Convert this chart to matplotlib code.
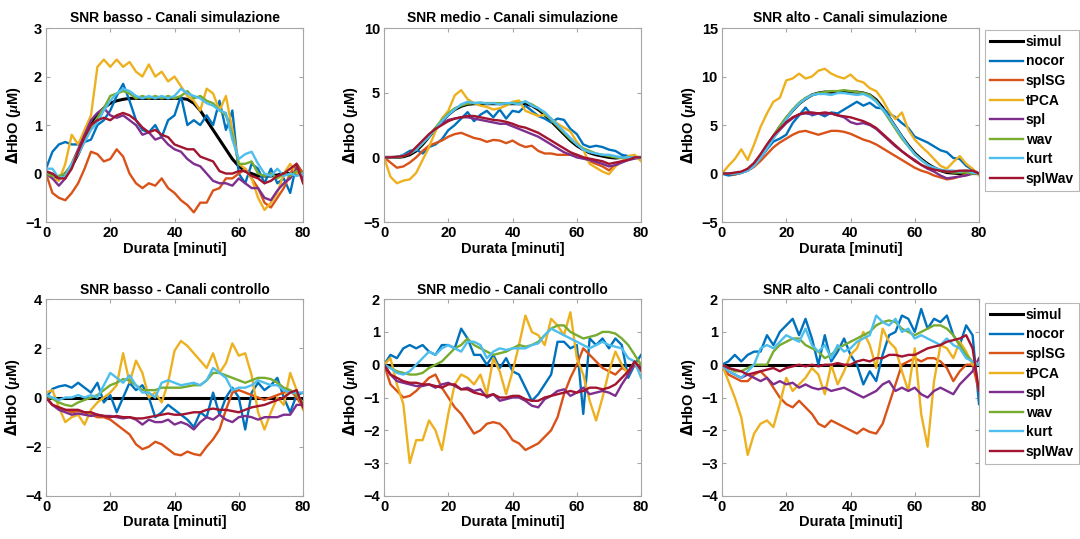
import matplotlib
matplotlib.use("Agg")
import matplotlib.pyplot as plt

# time axis, minutes (sampled every 2 min)
durata = list(range(0, 81, 2))

names = ["simul", "nocor", "splSG", "tPCA", "spl", "wav", "kurt", "splWav"]
colors = ["#000000", "#0072BD", "#D95319", "#EDB120",
          "#7E2F8E", "#77AC30", "#4DBEEE", "#A2142F"]

# ---- SNR basso, canali simulazione
bs_simul = [0, -0.02, -0.1, 0.0, 0.15, 0.4, 0.7, 1.0, 1.2, 1.35, 1.45,
            1.5, 1.53, 1.55, 1.55, 1.55, 1.55, 1.55, 1.55, 1.55, 1.55,
            1.55, 1.53, 1.45, 1.3, 1.1, 0.9, 0.7, 0.5, 0.3, 0.15,
            0.05, 0.0, -0.05, -0.05, -0.05, -0.03, 0.0, 0.0, 0.0, 0.0]
bs_nocor = [0.1, 0.45, 0.6, 0.65, 0.6, 0.6, 0.65, 0.7, 1.0, 1.1, 1.3,
            1.6, 1.85, 1.5, 1.1, 0.9, 0.85, 1.0, 0.75, 1.1, 1.2,
            1.6, 1.0, 1.1, 1.0, 1.2, 1.0, 1.5, 0.9, 1.3, 0.0,
            -0.2, 0.2, 0.1, -0.2, 0.1, -0.2, -0.1, -0.4, 0.2, 0.0]
bs_splSG = [0, -0.4, -0.5, -0.55, -0.4, -0.2, 0.1, 0.45, 0.4, 0.25, 0.3,
            0.5, 0.35, 0.0, -0.2, -0.3, -0.2, -0.25, -0.1, -0.3, -0.4,
            -0.55, -0.65, -0.8, -0.6, -0.6, -0.35, -0.3, -0.1, -0.1, 0.0,
            0.1, -0.1, -0.3, -0.6, -0.7, -0.5, -0.3, 0.0, 0.2, 0.0]
bs_tPCA = [0, -0.1, -0.15, 0.2, 0.8, 0.6, 0.9, 1.2, 2.2, 2.35, 2.2,
           2.35, 2.2, 2.3, 2.1, 2.0, 2.25, 2.0, 2.1, 1.9, 2.0,
           1.8, 1.6, 1.5, 1.3, 1.75, 1.65, 1.3, 1.6, 0.9, 0.2,
           0.1, -0.1, -0.5, -0.75, -0.6, -0.4, 0.0, 0.2, 0.0, 0.0]
bs_spl = [0, -0.1, -0.25, -0.1, 0.2, 0.5, 0.8, 1.1, 1.25, 1.35, 1.2,
          1.15, 1.2, 1.1, 1.0, 0.8, 0.85, 0.7, 0.75, 0.6, 0.5,
          0.45, 0.3, 0.2, 0.15, 0.0, -0.15, -0.2, -0.2, -0.25, -0.1,
          -0.2, -0.3, -0.3, -0.5, -0.55, -0.35, -0.2, -0.1, 0.1, -0.1]
bs_wav = [0, -0.05, -0.05, 0.0, 0.2, 0.45, 0.7, 0.95, 1.15, 1.35, 1.6,
          1.65, 1.7, 1.65, 1.55, 1.6, 1.55, 1.6, 1.55, 1.6, 1.55,
          1.6, 1.7, 1.55, 1.6, 1.5, 1.45, 1.3, 1.2, 0.8, 0.2,
          0.2, 0.25, 0.0, -0.05, 0.0, -0.1, 0.0, -0.05, 0.05, 0.0]
bs_kurt = [0.1, 0.1, -0.1, -0.05, 0.2, 0.4, 0.65, 0.9, 1.05, 1.3, 1.5,
           1.65, 1.75, 1.7, 1.6, 1.55, 1.6, 1.55, 1.6, 1.55, 1.6,
           1.75, 1.65, 1.6, 1.55, 1.45, 1.4, 1.3, 1.25, 0.7, 0.3,
           0.4, 0.45, 0.2, 0.0, -0.05, 0.1, -0.05, 0.0, -0.05, 0.0]
bs_splWav = [0.05, 0.0, -0.1, -0.1, 0.1, 0.45, 0.75, 1.0, 1.1, 1.15, 1.1,
             1.2, 1.25, 1.2, 1.1, 0.95, 0.85, 0.9, 0.8, 0.75, 0.6,
             0.55, 0.5, 0.5, 0.35, 0.3, 0.25, 0.05, 0.0, 0.0, 0.05,
             0.05, -0.05, -0.1, -0.2, -0.15, -0.05, 0.0, 0.1, 0.2, -0.2]

# ---- SNR medio, canali simulazione
ms_simul = [0, 0, 0, 0.05, 0.2, 0.5, 1.0, 1.6, 2.2, 2.8, 3.3,
            3.7, 3.95, 4.1, 4.15, 4.15, 4.15, 4.15, 4.15, 4.15, 4.15,
            4.15, 4.15, 4.0, 3.7, 3.3, 2.8, 2.3, 1.8, 1.3, 0.9,
            0.6, 0.35, 0.2, 0.1, 0.0, -0.05, 0.0, 0.0, 0.0, 0.0]
ms_nocor = [0, 0, 0, 0.2, 0.5, 0.6, 0.3, 0.8, 1.0, 1.4, 2.1,
            2.5, 3.0, 3.5, 2.8, 3.3, 3.6, 3.1, 3.7, 3.0, 3.6,
            3.5, 4.0, 3.6, 3.2, 3.0, 2.7, 3.0, 2.9, 2.2, 1.8,
            1.0, 0.8, 0.9, 0.8, 0.6, 0.5, 0.2, 0.1, 0.0, 0.0]
ms_splSG = [0, -0.4, -0.8, -0.7, -0.4, 0.0, 0.5, 0.9, 1.1, 1.3, 1.6,
            1.8, 1.9, 1.7, 1.5, 1.4, 1.2, 1.35, 1.3, 1.1, 1.3,
            1.0, 0.8, 0.9, 0.5, 0.3, 0.3, 0.2, 0.2, 0.2, 0.2,
            0.0, -0.3, -0.5, -0.7, -1.0, -0.6, -0.3, -0.1, 0.0, 0.0]
ms_tPCA = [0, -1.5, -2.0, -1.8, -1.7, -1.2, -0.2, 0.8, 2.0, 3.0, 3.6,
           4.8, 5.2, 4.5, 4.2, 4.0, 3.9, 3.7, 3.8, 4.0, 4.3,
           4.4, 3.6, 3.4, 3.2, 3.3, 3.0, 2.6, 2.3, 2.0, 1.2,
           0.6, -0.5, -0.8, -1.1, -1.3, -0.7, -0.3, 0.1, 0.2, -0.3]
ms_spl = [0, 0, 0, 0.1, 0.3, 0.7, 1.2, 1.7, 2.2, 2.6, 2.9,
          3.0, 3.1, 3.1, 3.0, 2.9, 2.8, 2.7, 2.6, 2.6, 2.4,
          2.2, 2.0, 1.8, 1.6, 1.3, 1.0, 0.7, 0.4, 0.2, 0.0,
          -0.1, -0.2, -0.35, -0.5, -0.7, -0.6, -0.4, -0.2, -0.1, 0.0]
ms_wav = [0, 0, 0, 0.1, 0.3, 0.6, 1.1, 1.7, 2.3, 2.9, 3.4,
          3.8, 4.0, 4.15, 4.2, 4.2, 4.2, 4.2, 4.2, 4.15, 4.2,
          4.2, 4.3, 4.1, 3.8, 3.4, 2.9, 2.4, 1.9, 1.4, 1.0,
          0.7, 0.5, 0.3, 0.2, 0.1, 0.0, -0.05, 0.0, 0.0, 0.0]
ms_kurt = [0, 0, 0.05, 0.15, 0.3, 0.6, 1.1, 1.6, 2.2, 2.8, 3.3,
           3.7, 4.1, 4.3, 4.2, 4.25, 4.15, 4.2, 4.1, 4.2, 4.2,
           4.1, 4.35, 4.0, 3.8, 3.5, 3.0, 2.5, 2.0, 1.5, 1.0,
           0.6, 0.4, 0.3, 0.2, 0.2, 0.1, 0.0, 0.0, 0.0, 0.0]
ms_splWav = [0, 0, 0.05, 0.1, 0.3, 0.8, 1.3, 1.8, 2.2, 2.5, 2.8,
             3.0, 3.1, 3.2, 3.2, 3.1, 3.0, 2.9, 2.85, 2.75, 2.6,
             2.4, 2.3, 2.1, 1.9, 1.6, 1.3, 1.0, 0.7, 0.4, 0.2,
             0.0, -0.1, -0.2, -0.3, -0.5, -0.4, -0.3, -0.2, 0.0, 0.0]

# ---- SNR alto, canali simulazione
as_simul = [0, 0, 0, 0.1, 0.4, 1.0, 1.8, 2.8, 3.8, 4.8, 5.7,
            6.5, 7.2, 7.7, 8.1, 8.3, 8.4, 8.4, 8.4, 8.4, 8.4,
            8.4, 8.3, 8.1, 7.6, 6.8, 5.8, 4.8, 3.8, 2.9, 2.1,
            1.5, 1.0, 0.6, 0.3, 0.1, 0.05, 0.0, 0.0, 0.0, 0.0]
as_nocor = [0, -0.2, -0.1, 0.1, 0.3, 0.8, 1.6, 2.5, 3.3, 3.6, 4.0,
            5.2, 6.0, 6.8, 6.0, 6.2, 5.9, 6.3, 6.2, 6.6, 7.0,
            7.4, 7.0, 7.3, 6.8, 6.7, 6.2, 5.8, 5.2, 4.7, 3.8,
            3.5, 3.2, 2.8, 2.4, 2.2, 1.6, 1.5, 0.8, 0.4, 0.0]
as_splSG = [0, 0, -0.1, 0.1, 0.3, 0.7, 1.3, 2.0, 2.7, 3.2, 3.6,
            4.0, 4.3, 4.4, 4.2, 4.0, 4.2, 4.4, 4.4, 4.3, 4.1,
            3.8, 3.5, 3.3, 3.0, 2.6, 2.2, 1.8, 1.4, 1.0, 0.6,
            0.3, 0.1, -0.2, -0.4, -0.6, -0.5, -0.3, -0.1, 0.0, 0.0]
as_tPCA = [0, 0.8, 1.5, 2.5, 1.4, 3.0, 4.8, 6.2, 7.4, 7.8, 9.6,
           9.8, 10.3, 9.8, 10.0, 10.6, 10.8, 10.3, 10.0, 9.8, 10.2,
           9.6, 9.4, 8.8, 8.5, 7.6, 6.4, 5.6, 6.3, 4.5, 3.5,
           2.8, 2.2, 1.5, 0.8, 0.5, 1.2, 1.8, 1.0, 0.5, -0.2]
as_spl = [0, 0, 0, 0.1, 0.4, 1.0, 1.9, 2.8, 3.7, 4.5, 5.2,
          5.7, 6.1, 6.2, 6.1, 6.2, 6.1, 6.2, 6.0, 5.8, 5.3,
          5.1, 5.2, 5.0, 4.6, 4.0, 3.4, 2.8, 2.3, 1.8, 1.4,
          0.9, 0.5, 0.2, -0.2, -0.5, -0.4, -0.3, -0.2, 0.0, 0.0]
as_wav = [0, 0, 0, 0.1, 0.4, 1.0, 1.9, 2.9, 3.9, 4.9, 5.8,
          6.6, 7.3, 7.8, 8.1, 8.3, 8.4, 8.5, 8.5, 8.6, 8.5,
          8.4, 8.3, 8.1, 7.5, 6.6, 5.6, 4.6, 3.6, 2.8, 2.0,
          1.4, 0.9, 0.5, 0.3, 0.2, 0.1, 0.1, 0.1, 0.0, 0.0]
as_kurt = [0, 0, 0, 0.05, 0.3, 0.8, 1.6, 2.6, 3.6, 4.6, 5.6,
           6.5, 7.2, 7.7, 8.1, 8.2, 8.2, 8.1, 8.3, 8.3, 8.2,
           8.1, 8.2, 7.9, 7.4, 6.6, 5.8, 4.8, 3.8, 2.8, 2.0,
           1.4, 0.9, 0.6, 0.4, 0.3, 0.3, 0.2, 0.3, 0.1, 0.0]
as_splWav = [0, 0, 0.1, 0.2, 0.5, 1.1, 2.0, 3.0, 3.9, 4.6, 5.3,
             5.8, 6.1, 6.3, 6.3, 6.2, 6.3, 6.2, 6.0, 5.9, 5.8,
             5.6, 5.4, 5.1, 4.7, 4.1, 3.5, 2.9, 2.3, 1.8, 1.3,
             0.9, 0.6, 0.4, 0.3, 0.2, 0.2, 0.3, 0.3, 0.3, 0.0]

# ---- control channels: no simulated response
ctrl_simul = [0, 0, 0, 0, 0, 0, 0, 0, 0, 0, 0,
              0, 0, 0, 0, 0, 0, 0, 0, 0, 0,
              0, 0, 0, 0, 0, 0, 0, 0, 0, 0,
              0, 0, 0, 0, 0, 0, 0, 0, 0, 0]

# ---- SNR basso, canali controllo
bc_nocor = [0, 0.35, 0.45, 0.5, 0.4, 0.6, 0.4, 0.2, 0.6, -0.2, 0.1,
            -0.6, 0.0, 0.6, 0.3, 0.5, 0.0, -0.8, -0.6, -0.3, -0.5,
            -0.7, -0.9, -1.2, -0.6, -0.8, 0.2, -0.7, 0.0, 0.4, 0.0,
            -1.3, 0.2, 0.6, 0.3, 0.5, 0.8, 0.0, -0.6, 0.1, 0.2]
bc_splSG = [0, -0.3, -0.4, -0.5, -0.6, -0.55, -0.6, -0.7, -0.8, -0.8, -0.9,
            -1.1, -1.3, -1.5, -1.9, -2.1, -2.0, -1.8, -1.9, -2.1, -2.3,
            -2.35, -2.2, -2.3, -2.35, -2.0, -1.7, -1.3, -0.5, 0.2, 0.3,
            0.2, 0.1, 0.0, -0.1, 0.0, 0.1, 0.2, 0.3, 0.0, -0.4]
bc_tPCA = [0.2, 0.3, -0.4, -1.0, -0.8, -0.7, -1.1, -0.5, -0.2, 0.0, 0.2,
           0.5, 1.8, 0.6, 1.5, 1.0, 0.0, 0.2, -0.2, 0.6, 1.9,
           2.3, 2.1, 1.8, 1.5, 1.2, 1.8, 1.0, 1.4, 2.2, 1.7,
           1.8, 0.9, -0.6, -1.3, -0.6, 0.0, -0.3, 1.0, 0.3, -0.5]
bc_spl = [0, -0.3, -0.5, -0.6, -0.7, -0.65, -0.7, -0.75, -0.7, -0.75, -0.75,
          -0.8, -0.85, -0.8, -0.9, -1.1, -0.9, -1.0, -1.0, -0.9, -1.1,
          -1.0, -1.1, -1.3, -1.0, -0.8, -0.9, -0.7, -0.9, -1.0, -0.8,
          -0.75, -0.8, -0.9, -0.8, -0.8, -0.8, -0.7, -0.7, -0.3, -0.3]
bc_wav = [0.05, -0.05, -0.2, -0.3, -0.35, -0.2, -0.1, 0.0, 0.1, 0.3, 0.5,
          0.6, 0.75, 0.7, 0.5, 0.3, 0.3, 0.3, 0.4, 0.4, 0.4,
          0.4, 0.45, 0.5, 0.5, 0.7, 1.0, 1.0, 0.9, 0.8, 0.7,
          0.6, 0.7, 0.8, 0.8, 0.75, 0.6, 0.4, 0.3, 0.1, -0.2]
bc_kurt = [0.1, 0.0, -0.1, 0.0, 0.0, 0.1, 0.0, 0.1, 0.0, 0.5, 1.0,
           0.8, 0.6, 0.9, 0.5, 0.2, 0.2, 0.0, 0.6, 0.7, 0.6,
           0.5, 0.55, 0.6, 0.5, 0.7, 1.2, 1.0, 0.8, 0.3, 0.4,
           0.4, 0.5, 0.7, 0.6, 0.5, 0.5, 0.3, 0.2, 0.2, 0.2]
bc_splWav = [0, -0.3, -0.4, -0.5, -0.5, -0.5, -0.6, -0.6, -0.7, -0.75, -0.8,
             -0.75, -0.8, -0.8, -0.85, -0.85, -0.8, -0.75, -0.7, -0.65, -0.7,
             -0.7, -0.65, -0.6, -0.6, -0.5, -0.45, -0.5, -0.5, -0.55, -0.6,
             -0.5, -0.4, -0.35, -0.3, -0.2, -0.1, 0.0, 0.2, 0.3, -0.4]

# ---- SNR medio, canali controllo
mc_nocor = [0, 0.3, 0.2, 0.5, 0.6, 0.5, 0.6, 0.4, 0.3, 0.6, 0.6,
            0.5, 1.1, 0.8, 0.3, 0.3, 0.0, 0.3, -0.1, 0.2, -0.2,
            -0.3, -0.7, -1.1, -0.9, -0.6, -0.3, 0.7, 0.7, 0.5, 0.6,
            -1.5, 0.8, 0.6, 0.8, 0.5, 0.8, 0.6, -0.4, 0.0, 0.3]
mc_splSG = [0, -0.6, -0.8, -1.0, -0.95, -0.8, -0.6, -0.4, -0.3, -0.7, -1.0,
            -1.3, -1.5, -1.8, -2.1, -2.0, -1.8, -1.75, -1.8, -2.0, -2.3,
            -2.4, -2.6, -2.5, -2.4, -2.2, -2.0, -1.6, -0.9, -0.4, 0.0,
            0.5, 0.3, 0.1, -0.1, -0.2, -0.3, -0.1, -0.2, 0.0, -0.2]
mc_tPCA = [0, 0.2, -0.6, -1.2, -3.0, -2.3, -2.3, -1.7, -2.0, -2.6, -1.5,
           -0.6, -0.3, -0.4, -0.6, -0.3, -0.9, 0.2, -0.2, -0.9, -0.2,
           0.6, 1.5, 1.0, 0.9, 0.6, 1.4, 1.2, 0.9, 1.6, 0.2,
           -0.3, -1.1, -1.7, -1.0, -0.2, 0.4, 0.0, -0.3, 0.1, -0.1]
mc_spl = [0, -0.3, -0.5, -0.55, -0.6, -0.65, -0.65, -0.6, -0.7, -0.6, -0.55,
          -0.65, -0.75, -0.7, -0.8, -0.75, -1.0, -0.9, -1.1, -1.05, -1.0,
          -1.0, -1.1, -1.25, -1.3, -1.05, -0.95, -0.8, -0.75, -0.95, -0.85,
          -0.7, -0.9, -0.85, -0.8, -0.85, -0.95, -0.6, -0.3, 0.05, -0.1]
mc_wav = [0, -0.1, -0.2, -0.25, -0.3, -0.3, -0.25, -0.1, 0.0, 0.1, 0.3,
          0.5, 0.6, 0.8, 0.6, 0.5, 0.4, 0.3, 0.35, 0.4, 0.5,
          0.6, 0.55, 0.6, 0.7, 0.9, 1.1, 1.2, 1.2, 1.0, 0.9,
          0.8, 0.85, 0.9, 1.0, 1.0, 0.95, 0.8, 0.6, 0.3, 0.0]
mc_kurt = [0, -0.1, -0.25, -0.3, -0.2, 0.0, 0.2, 0.4, 0.3, 0.5, 0.6,
           0.5, 0.4, 0.7, 0.7, 0.6, 0.2, 0.4, 0.5, 0.45, 0.5,
           0.5, 0.5, 0.6, 0.65, 0.9, 1.1, 1.0, 0.9, 0.8, 0.7,
           0.6, 0.5, 0.6, 0.7, 0.6, 0.55, 0.5, 0.2, 0.1, -0.4]
mc_splWav = [0, -0.3, -0.4, -0.5, -0.55, -0.55, -0.6, -0.6, -0.65, -0.7, -0.6,
             -0.6, -0.75, -0.75, -0.85, -0.9, -0.95, -0.9, -1.0, -1.0, -0.95,
             -0.95, -1.05, -1.1, -1.1, -1.0, -0.95, -0.9, -0.85, -0.8, -0.85,
             -0.8, -0.7, -0.7, -0.75, -0.7, -0.6, -0.4, -0.2, 0.1, -0.15]

# ---- SNR alto, canali controllo
ac_nocor = [0, 0.1, 0.3, 0.1, 0.3, 0.4, 0.4, 0.9, 0.6, 1.0, 1.2,
            1.4, 0.9, 1.4, 0.8, 0.0, 0.9, 0.1, 0.4, 0.8, 0.3,
            0.0, -0.6, -0.2, -0.5, 0.3, 0.9, 1.0, 1.5, 1.4, 1.0,
            1.7, 1.1, 1.4, 1.3, 1.5, 0.9, 0.6, 1.2, 0.9, -1.2]
ac_splSG = [0, -0.3, -0.4, -0.5, -0.5, -0.3, -0.2, -0.4, -0.7, -1.0, -1.2,
            -1.3, -1.1, -1.3, -1.5, -1.8, -1.9, -1.7, -1.8, -1.9, -2.0,
            -2.1, -1.95, -2.05, -2.1, -1.8, -1.2, -0.6, 0.0, 0.1, 0.2,
            0.1, 0.2, 0.2, 0.1, -0.1, -0.5, -0.2, 0.0, 0.0, -0.8]
ac_tPCA = [0, -0.5, -1.0, -1.6, -2.75, -2.1, -1.8, -1.7, -1.9, -1.2, -0.4,
           -0.8, -0.6, -0.4, -0.1, -0.3, -0.9, 0.0, -0.6, -0.2, 0.3,
           0.5, 1.0, 0.6, -0.1, 1.1, 0.7, 0.5, -0.2, -0.8, 0.5,
           -1.5, -2.5, -0.5, 0.6, 0.5, 0.2, 0.7, 0.4, 0.0, 0.0]
ac_spl = [0, -0.2, -0.3, -0.4, -0.3, -0.4, -0.5, -0.4, -0.6, -0.5, -0.6,
          -0.55, -0.7, -0.6, -0.7, -0.75, -0.7, -0.8, -0.75, -0.7, -0.8,
          -0.9, -1.0, -0.9, -0.8, -0.6, -0.5, -0.8, -0.7, -0.8, -0.7,
          -0.9, -1.0, -0.8, -0.7, -0.8, -0.9, -0.6, -0.4, -0.2, 0.2]
ac_wav = [0, -0.1, -0.2, -0.2, -0.1, 0.0, 0.0, 0.0, 0.4, 0.6, 0.7,
          0.8, 0.8, 0.6, 0.5, 0.4, 0.2, 0.3, 0.5, 0.6, 0.7,
          0.8, 0.9, 1.0, 1.2, 1.3, 1.35, 1.3, 1.1, 1.0, 0.9,
          1.0, 1.1, 1.2, 1.2, 1.1, 0.9, 0.6, 0.3, 0.1, 0.0]
ac_kurt = [0, -0.2, -0.3, -0.4, -0.2, 0.0, 0.5, 0.6, 0.5, 0.7, 0.9,
           0.8, 0.7, 1.1, 0.6, 0.4, 0.6, 0.2, 0.6, 0.4, 0.5,
           0.7, 0.8, 0.9, 1.5, 1.3, 1.2, 1.4, 1.0, 1.1, 0.8,
           0.9, 0.8, 0.7, 0.6, 0.8, 0.6, 0.5, 0.2, 0.1, 0.0]
ac_splWav = [0, -0.1, -0.15, -0.2, -0.3, -0.25, -0.2, -0.15, -0.1, -0.2, -0.1,
             -0.05, 0.0, -0.05, 0.0, -0.05, 0.0, 0.0, 0.05, 0.0, 0.0,
             0.1, 0.15, 0.1, 0.2, 0.2, 0.3, 0.3, 0.25, 0.3, 0.3,
             0.4, 0.5, 0.55, 0.6, 0.7, 0.75, 0.8, 0.9, 0.5, -0.8]

panels = [
    ("SNR basso - Canali simulazione", (-1, 3), [-1, 0, 1, 2, 3],
     [bs_simul, bs_nocor, bs_splSG, bs_tPCA, bs_spl, bs_wav, bs_kurt, bs_splWav]),
    ("SNR medio - Canali simulazione", (-5, 10), [-5, 0, 5, 10],
     [ms_simul, ms_nocor, ms_splSG, ms_tPCA, ms_spl, ms_wav, ms_kurt, ms_splWav]),
    ("SNR alto - Canali simulazione", (-5, 15), [-5, 0, 5, 10, 15],
     [as_simul, as_nocor, as_splSG, as_tPCA, as_spl, as_wav, as_kurt, as_splWav]),
    ("SNR basso - Canali controllo", (-4, 4), [-4, -2, 0, 2, 4],
     [ctrl_simul, bc_nocor, bc_splSG, bc_tPCA, bc_spl, bc_wav, bc_kurt, bc_splWav]),
    ("SNR medio - Canali controllo", (-4, 2), [-4, -3, -2, -1, 0, 1, 2],
     [ctrl_simul, mc_nocor, mc_splSG, mc_tPCA, mc_spl, mc_wav, mc_kurt, mc_splWav]),
    ("SNR alto - Canali controllo", (-4, 2), [-4, -3, -2, -1, 0, 1, 2],
     [ctrl_simul, ac_nocor, ac_splSG, ac_tPCA, ac_spl, ac_wav, ac_kurt, ac_splWav]),
]

plt.rcParams['font.family'] = ['Liberation Sans', 'DejaVu Sans']
plt.rcParams['font.weight'] = 'bold'
plt.rcParams['mathtext.fontset'] = 'custom'
plt.rcParams['mathtext.it'] = 'Liberation Serif:italic'

fig = plt.figure(figsize=(10.8, 5.39), dpi=100)

lefts = [0.0426, 0.3556, 0.6685]
bottoms = [0.588, 0.080]
heights = [0.360, 0.365]
width = 0.238
frame = '#a6a6a6'

for i, (title, ylim, yticks, series) in enumerate(panels):
    r, c = divmod(i, 3)
    ax = fig.add_axes([lefts[c], bottoms[r], width, heights[r]])
    handles = []
    for name, col, ys in zip(names, colors, series):
        lw = 2.2 if name == "simul" else 1.7
        h, = ax.plot(durata, ys, color=col, lw=lw, label=name)
        handles.append(h)
    ax.set_xlim(0, 80)
    ax.set_ylim(*ylim)
    ax.set_xticks([0, 20, 40, 60, 80])
    ax.set_yticks(yticks)
    ax.tick_params(direction='in', top=True, right=True, length=3,
                   color=frame, labelsize=10.5, pad=3)
    for sp in ax.spines.values():
        sp.set_color(frame)
        sp.set_linewidth(0.8)
    ax.set_title(title, fontsize=10, fontweight='bold', pad=4)
    ax.set_xlabel("Durata [minuti]", fontsize=10.5, fontweight='bold', labelpad=1)
    ax.set_ylabel(r"$\Delta$HbO ($\mu$M)", fontsize=10.5, fontweight='bold', labelpad=2)
    if c == 2:
        top = 1 - (30 if r == 0 else 303) / 539
        leg = fig.legend(handles, names, loc='upper left',
                         bbox_to_anchor=(0.912, top), fontsize=10,
                         frameon=True, fancybox=False, borderpad=0.35,
                         labelspacing=0.4, handlelength=2.4, handletextpad=0.2,
                         borderaxespad=0)
        leg.get_frame().set_edgecolor(frame)
        leg.get_frame().set_linewidth(0.8)
        for t in leg.get_texts():
            t.set_fontweight('bold')

fig.savefig("out.png", dpi=100)
